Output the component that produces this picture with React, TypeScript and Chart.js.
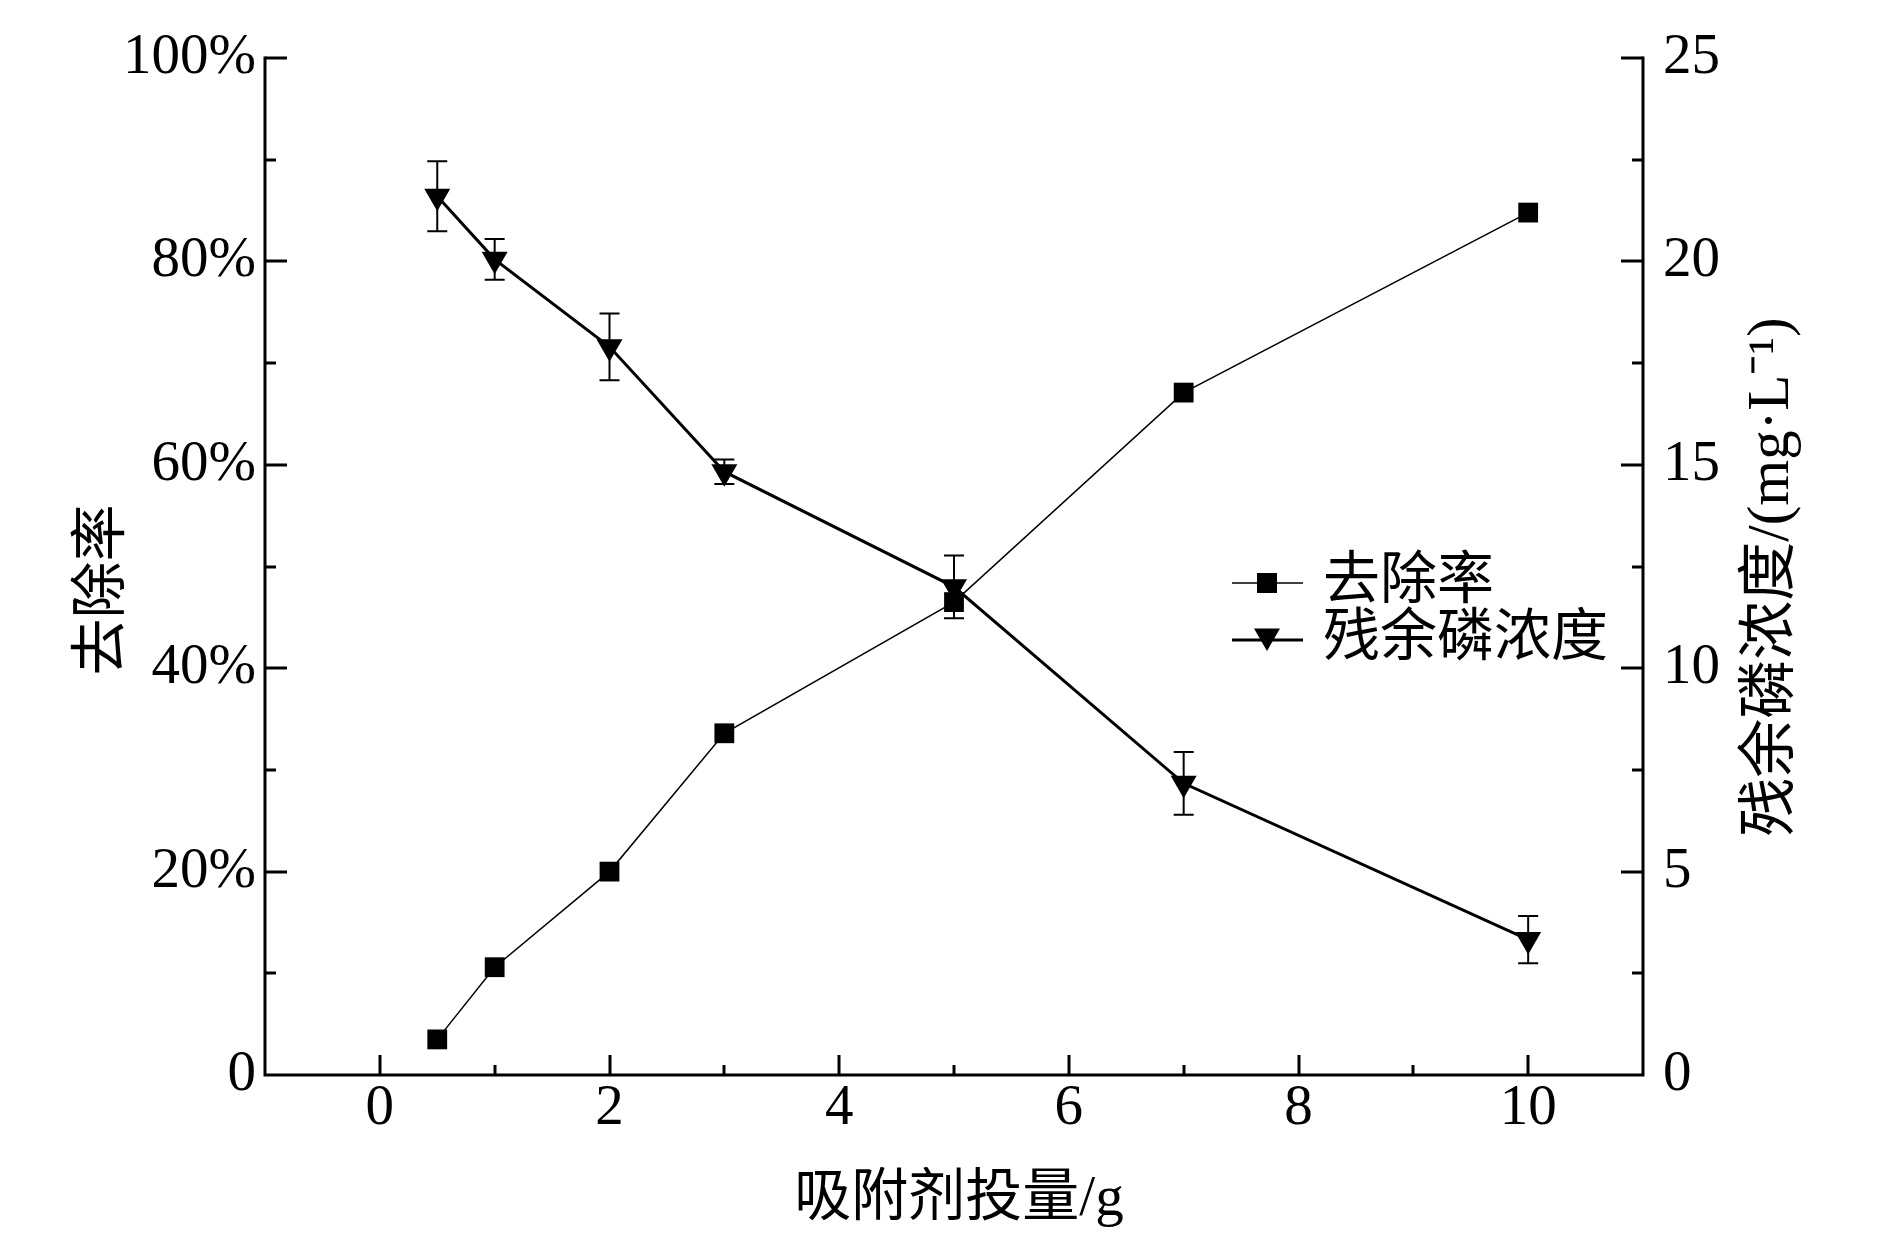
import React, { useEffect, useRef } from "react";
import { Chart, registerables } from "chart.js";

Chart.register(...registerables);

// ---- data ----
const dosage = [0.5, 1, 2, 3, 5, 7, 10];
const removalRate = [3.5, 10.6, 20.0, 33.6, 46.5, 67.1, 84.8];
const residualP = [21.6, 20.05, 17.9, 14.83, 12.0, 7.17, 3.33];
const residualErr = [0.86, 0.5, 0.82, 0.3, 0.77, 0.77, 0.58];
const seriesNames = ["去除率", "残余磷浓度"];
const xTitle = "吸附剂投量/g";
const yLeftTitle = "去除率";
const yRightTitle = "残余磷浓度/(mg·L⁻¹)";

const FONT = "'Liberation Serif', 'Times New Roman', 'Noto Sans CJK SC', serif";

function drawTri(ctx: CanvasRenderingContext2D, x: number, y: number, r: number) {
  ctx.beginPath();
  ctx.moveTo(x - r * Math.sin(Math.PI / 3), y - r / 2);
  ctx.lineTo(x + r * Math.sin(Math.PI / 3), y - r / 2);
  ctx.lineTo(x, y + r);
  ctx.closePath();
  ctx.fill();
}

const customPlugin = {
  id: "customDeco",
  beforeDatasetsDraw(chart: any) {
    const ctx = chart.ctx as CanvasRenderingContext2D;
    const xs = chart.scales.x;
    const y1 = chart.scales.y1;
    ctx.save();
    ctx.strokeStyle = "#000";
    ctx.lineWidth = 2;
    dosage.forEach((d, i) => {
      const px = xs.getPixelForValue(d);
      const top = y1.getPixelForValue(residualP[i] + residualErr[i]);
      const bot = y1.getPixelForValue(residualP[i] - residualErr[i]);
      ctx.beginPath();
      ctx.moveTo(px, top);
      ctx.lineTo(px, bot);
      ctx.moveTo(px - 10, top);
      ctx.lineTo(px + 10, top);
      ctx.moveTo(px - 10, bot);
      ctx.lineTo(px + 10, bot);
      ctx.stroke();
    });
    ctx.restore();
  },
  afterDraw(chart: any) {
    const ctx = chart.ctx as CanvasRenderingContext2D;
    const a = chart.chartArea;
    const xs = chart.scales.x;
    const y = chart.scales.y;
    const y1 = chart.scales.y1;
    ctx.save();
    ctx.strokeStyle = "#000";
    ctx.lineWidth = 3;
    ctx.lineCap = "square";
    ctx.beginPath();
    ctx.moveTo(a.left, a.top);
    ctx.lineTo(a.left, a.bottom);
    ctx.lineTo(a.right, a.bottom);
    ctx.lineTo(a.right, a.top);
    ctx.stroke();
    ctx.lineCap = "butt";
    ctx.beginPath();
    for (let v = 0; v <= 10; v++) {
      const px = Math.round(xs.getPixelForValue(v));
      const len = v % 2 === 0 ? 20 : 10;
      ctx.moveTo(px, a.bottom);
      ctx.lineTo(px, a.bottom - len);
    }
    for (let v = 10; v <= 100; v += 10) {
      const py = Math.round(y.getPixelForValue(v));
      const len = v % 20 === 0 ? 22 : 11;
      ctx.moveTo(a.left, py);
      ctx.lineTo(a.left + len, py);
    }
    for (let v = 2.5; v <= 25; v += 2.5) {
      const py = Math.round(y1.getPixelForValue(v));
      const len = v % 5 === 0 ? 22 : 11;
      ctx.moveTo(a.right, py);
      ctx.lineTo(a.right - len, py);
    }
    ctx.stroke();

    // titles
    ctx.fillStyle = "#000";
    ctx.textAlign = "center";
    ctx.textBaseline = "middle";
    ctx.font = `57px ${FONT}`;
    ctx.fillText(xTitle, 959, 1200);
    ctx.save();
    ctx.translate(104, 590);
    ctx.rotate(-Math.PI / 2);
    ctx.fillText(yLeftTitle, 0, 0);
    ctx.restore();
    ctx.save();
    ctx.translate(1772, 577);
    ctx.rotate(-Math.PI / 2);
    ctx.font = `59px ${FONT}`;
    ctx.fillText(yRightTitle, 0, 0);
    ctx.restore();

    // legend
    ctx.font = `57px ${FONT}`;
    const lx0 = 1232, lx1 = 1303, mx = 1267, tx = 1323;
    const rows = [583, 640];
    ctx.textAlign = "left";
    rows.forEach((ry, i) => {
      ctx.lineWidth = i === 0 ? 1.5 : 3;
      ctx.beginPath();
      ctx.moveTo(lx0, ry);
      ctx.lineTo(lx1, ry);
      ctx.stroke();
      if (i === 0) {
        ctx.fillRect(mx - 10, ry - 10, 20, 20);
      } else {
        drawTri(ctx, mx, ry - 4, 15);
      }
      ctx.fillText(seriesNames[i], tx, ry);
    });
    ctx.restore();
  },
};

export default function App() {
  const ref = useRef<HTMLCanvasElement>(null);
  useEffect(() => {
    if (!ref.current) return;
    const tickFont = { family: FONT, size: 57 };
    const chart = new Chart(ref.current, {
      type: "line",
      data: {
        datasets: [
          {
            label: seriesNames[0],
            data: dosage.map((d, i) => ({ x: d, y: removalRate[i] })),
            yAxisID: "y",
            borderColor: "#000",
            backgroundColor: "#000",
            borderWidth: 1.5,
            pointStyle: "rect",
            pointRadius: 14,
            pointBorderWidth: 0,
            pointBackgroundColor: "#000",
            tension: 0,
          },
          {
            label: seriesNames[1],
            data: dosage.map((d, i) => ({ x: d, y: residualP[i] })),
            yAxisID: "y1",
            borderColor: "#000",
            backgroundColor: "#000",
            borderWidth: 3,
            pointStyle: "triangle",
            pointRotation: 180,
            pointRadius: 15,
            pointBorderWidth: 0,
            pointBackgroundColor: "#000",
            tension: 0,
          },
        ],
      },
      options: {
        animation: false,
        responsive: false,
        devicePixelRatio: 1,
        layout: { padding: { top: 58, left: 0, right: 0, bottom: 0 } },
        plugins: { legend: { display: false }, tooltip: { enabled: false } },
        scales: {
          x: {
            type: "linear",
            min: -1,
            max: 11,
            grid: { display: false, drawTicks: false },
            border: { display: false },
            ticks: {
              stepSize: 1,
              autoSkip: false,
              maxRotation: 0,
              padding: 0,
              color: "#000",
              font: tickFont,
              callback: (v: any) => (Number(v) % 2 === 0 && v >= 0 && v <= 10 ? String(v) : ""),
            },
            afterFit: (s: any) => {
              s.height = 182;
            },
          },
          y: {
            type: "linear",
            position: "left",
            min: 0,
            max: 100,
            grid: { display: false, drawTicks: false },
            border: { display: false },
            ticks: {
              stepSize: 10,
              autoSkip: false,
              padding: 9,
              color: "#000",
              font: tickFont,
              callback: (v: any) => (Number(v) % 20 === 0 ? (Number(v) === 0 ? "0" : v + "%") : ""),
            },
            afterFit: (s: any) => {
              s.width = 265;
            },
          },
          y1: {
            type: "linear",
            position: "right",
            min: 0,
            max: 25,
            grid: { display: false, drawTicks: false },
            border: { display: false },
            ticks: {
              stepSize: 2.5,
              autoSkip: false,
              padding: 20,
              color: "#000",
              font: tickFont,
              callback: (v: any) => (Number(v) % 5 === 0 ? String(v) : ""),
            },
            afterFit: (s: any) => {
              s.width = 244;
            },
          },
        },
      },
      plugins: [customPlugin],
    } as any);
    return () => chart.destroy();
  }, []);
  return (
    <div style={{ position: "absolute", left: 0, top: 0, width: 1887, height: 1257, background: "#fff" }}>
      <canvas ref={ref} width={1887} height={1257} style={{ display: "block" }} />
    </div>
  );
}
